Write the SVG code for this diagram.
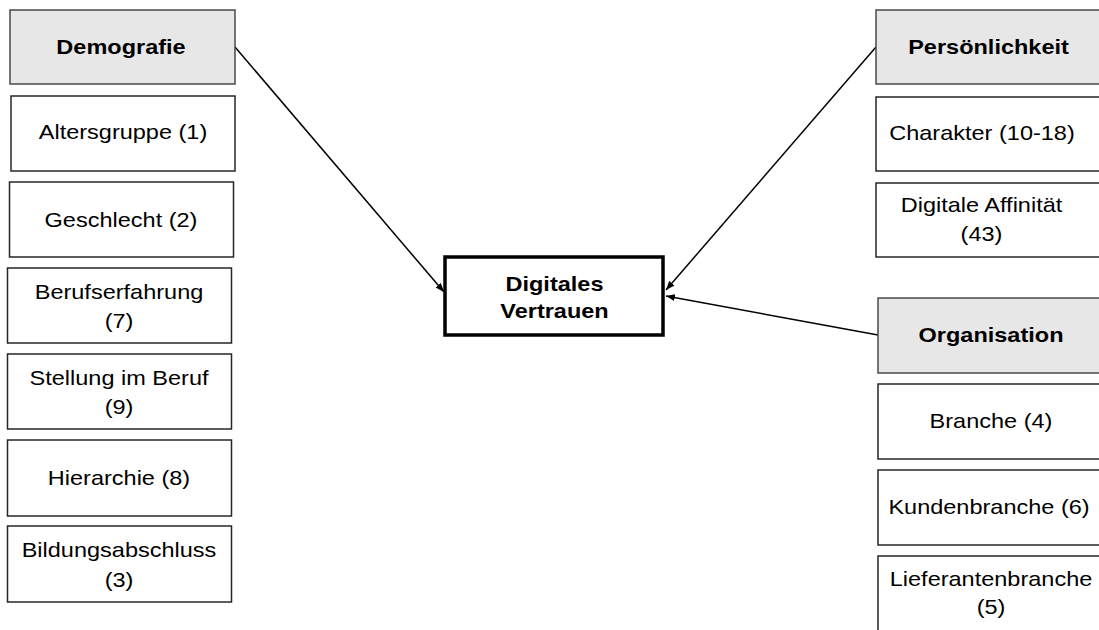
<svg xmlns="http://www.w3.org/2000/svg" width="1099" height="630" viewBox="0 0 1099 630">
<style>
.hd{fill:#e7e7e7;stroke:#4a4a4a;stroke-width:1.5}
.bx{fill:#ffffff;stroke:#262626;stroke-width:1.5}
.ctr{fill:#ffffff;stroke:#000000;stroke-width:3.5}
text{font-family:"Liberation Sans",Arial,sans-serif;font-size:21px;fill:#000000;text-anchor:middle}
.b{font-weight:bold}
.cn{stroke:#000000;stroke-width:1.5;fill:none;marker-end:url(#ah)}
</style>
<defs>
<marker id="ah" markerUnits="userSpaceOnUse" markerWidth="9" markerHeight="7" refX="9" refY="3.5" orient="auto">
<path d="M0,0 L9,3.5 L0,7 z" fill="#000000"/>
</marker>
</defs>
<rect width="1099" height="630" fill="#ffffff"/>
<g id="connectors">
<path class="cn" d="M235,47 L444,292"/>
<path class="cn" d="M876,47 L666,290"/>
<path class="cn" d="M878,335 L666,296"/>
</g>
<g id="demografie"><rect class="hd" x="10" y="10" width="225" height="74"/><text class="b" transform="translate(121 0) scale(1.12 1)" x="0" y="54.5">Demografie</text></g>
<g id="altersgruppe"><rect class="bx" x="11" y="96" width="224" height="75"/><text transform="translate(123 0) scale(1.12 1)" x="0" y="139.5">Altersgruppe (1)</text></g>
<g id="geschlecht"><rect class="bx" x="9.5" y="182" width="224" height="75"/><text transform="translate(121 0) scale(1.12 1)" x="0" y="227">Geschlecht (2)</text></g>
<g id="berufserfahrung"><rect class="bx" x="7.5" y="268" width="224" height="75"/><text transform="translate(119 0) scale(1.12 1)"><tspan x="0" y="299.5">Berufserfahrung</tspan><tspan x="0" y="328.5">(7)</tspan></text></g>
<g id="stellung"><rect class="bx" x="7.5" y="354" width="224" height="75"/><text transform="translate(119 0) scale(1.12 1)"><tspan x="0" y="385.5">Stellung im Beruf</tspan><tspan x="0" y="414.5">(9)</tspan></text></g>
<g id="hierarchie"><rect class="bx" x="7.5" y="440" width="224" height="76"/><text transform="translate(119 0) scale(1.12 1)" x="0" y="485.5">Hierarchie (8)</text></g>
<g id="bildungsabschluss"><rect class="bx" x="7.5" y="526" width="224" height="76"/><text transform="translate(119 0) scale(1.12 1)"><tspan x="0" y="557.5">Bildungsabschluss</tspan><tspan x="0" y="587">(3)</tspan></text></g>
<g id="digitales-vertrauen"><rect class="ctr" x="445" y="257" width="218" height="78"/><text class="b" transform="translate(554.5 0) scale(1.12 1)"><tspan x="0" y="291.5">Digitales</tspan><tspan x="0" y="318.5">Vertrauen</tspan></text></g>
<g id="persoenlichkeit"><rect class="hd" x="876" y="10" width="225" height="74"/><text class="b" transform="translate(988.5 0) scale(1.12 1)" x="0" y="54.5">Persönlichkeit</text></g>
<g id="charakter"><rect class="bx" x="876" y="97" width="225" height="74"/><text transform="translate(982 0) scale(1.12 1)" x="0" y="140.5">Charakter (10-18)</text></g>
<g id="digitale-affinitaet"><rect class="bx" x="876" y="183" width="225" height="74"/><text transform="translate(981.5 0) scale(1.12 1)"><tspan x="0" y="212.5">Digitale Affinität</tspan><tspan x="0" y="241.5">(43)</tspan></text></g>
<g id="organisation"><rect class="hd" x="878" y="298" width="225" height="75"/><text class="b" transform="translate(991 0) scale(1.12 1)" x="0" y="342.5">Organisation</text></g>
<g id="branche"><rect class="bx" x="878" y="384" width="225" height="75"/><text transform="translate(991 0) scale(1.12 1)" x="0" y="428.5">Branche (4)</text></g>
<g id="kundenbranche"><rect class="bx" x="878" y="470" width="225" height="75"/><text transform="translate(989 0) scale(1.12 1)" x="0" y="514.5">Kundenbranche (6)</text></g>
<g id="lieferantenbranche"><rect class="bx" x="878" y="556" width="225" height="80"/><text transform="translate(991 0) scale(1.12 1)"><tspan x="0" y="586.5">Lieferantenbranche</tspan><tspan x="0" y="614.5">(5)</tspan></text></g>
</svg>
